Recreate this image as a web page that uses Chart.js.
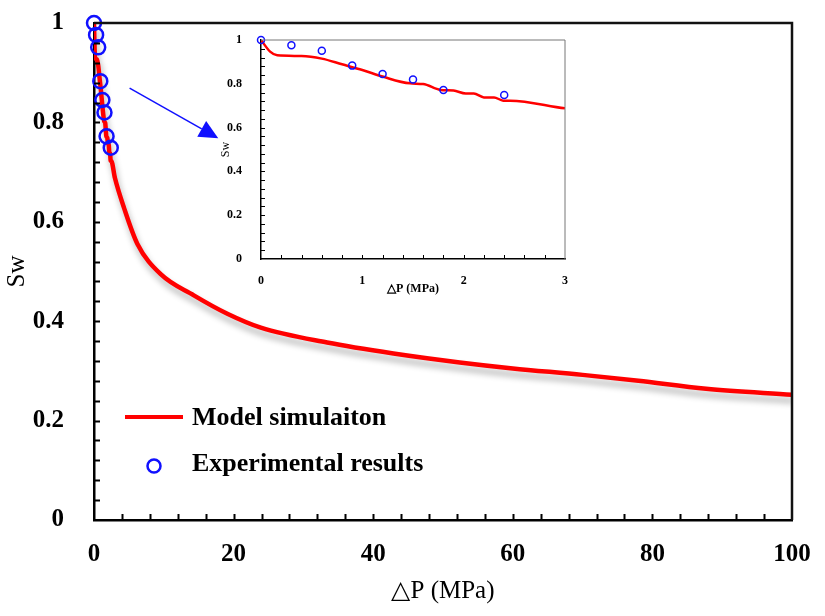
<!DOCTYPE html>
<html>
<head>
<meta charset="utf-8">
<title>Sw vs ΔP</title>
<script src="https://cdn.jsdelivr.net/npm/chart.js@4.4.0/dist/chart.umd.min.js"></script>
<style>
  html, body { margin: 0; padding: 0; background: #fff; }
  #wrap { position: relative; width: 825px; height: 616px; }
  #main { position: absolute; left: 0; top: 0; }
  #inset { position: absolute; left: 215px; top: 28px; }
</style>
</head>
<body>
<div id="wrap">
  <canvas id="main" width="825" height="616"></canvas>
  <canvas id="inset" width="362" height="274"></canvas>
</div>
<script>
// Model simulation curve (ΔP in MPa -> Sw)
const modelP  = [0, 0.09, 0.16, 0.4, 0.6, 0.8, 1.0, 1.2, 1.47, 1.6, 1.77, 1.9, 2.02, 2.1, 2.2, 2.3, 2.39, 2.46, 3.0,
                 4.3, 6.2, 9.6, 14.3, 19.1, 23.9, 33.4, 42.9, 52.4, 60, 70, 78, 87.7, 100];
const modelSw = [1.0, 0.947, 0.930, 0.927, 0.915, 0.889, 0.863, 0.833, 0.802, 0.799, 0.772, 0.769, 0.756, 0.756, 0.738, 0.738, 0.723, 0.723, 0.688,
                 0.628, 0.556, 0.494, 0.452, 0.415, 0.387, 0.357, 0.335, 0.317, 0.305, 0.292, 0.280, 0.264, 0.252];

// Experimental results
const expP  = [0, 0.3, 0.6, 0.9, 1.2, 1.5, 1.8, 2.4];
const expSw = [1.0, 0.976, 0.951, 0.883, 0.845, 0.820, 0.772, 0.749];

// Tick labels
const mainXTicks  = [0, 20, 40, 60, 80, 100];
const insetXTicks = [0, 1, 2, 3];
const swTicks     = [0, 0.2, 0.4, 0.6, 0.8, 1];

const seriesNames = ['Model simulaiton', 'Experimental results'];

const RED = '#ff0000';
const BLUE = '#1010ff';
const SERIF = '"Liberation Serif", "Times New Roman", serif';

const toXY = (xs, ys) => xs.map((v, i) => ({ x: v, y: ys[i] }));

/**
 * Inward minor ticks plus the top/right frame of the plot box
 */
const tickMarks = {
    id: 'tickMarks',
    afterDraw(chart, args, opts) {
        const { ctx, chartArea: a, scales: { x, y } } = chart;
        ctx.save();
        ctx.strokeStyle = '#000';
        ctx.lineWidth = opts.width;
        ctx.beginPath();
        for (let v = x.min + opts.xStep; v < x.max - 1e-9; v += opts.xStep) {
            const px = Math.round(x.getPixelForValue(v)) + 0.5;
            ctx.moveTo(px, a.bottom);
            ctx.lineTo(px, a.bottom - opts.len);
        }
        for (let v = y.min + opts.yStep; v < y.max - 1e-9; v += opts.yStep) {
            const py = Math.round(y.getPixelForValue(v)) + 0.5;
            ctx.moveTo(a.left, py);
            ctx.lineTo(a.left + opts.len, py);
        }
        ctx.stroke();

        // frame on top and right
        ctx.strokeStyle = opts.frameColor;
        ctx.lineWidth = opts.frameWidth;
        ctx.beginPath();
        ctx.moveTo(a.left, a.top);
        ctx.lineTo(a.right, a.top);
        ctx.lineTo(a.right, a.bottom);
        ctx.stroke();
        ctx.restore();
    }
};

/**
 * Soft grey shadow below the model curve
 */
const lineShadow = {
    id: 'lineShadow',
    beforeDatasetDraw(chart, args, opts) {
        if (!opts.enabled || !chart.data.datasets[args.index].shadow) return;
        const ctx = chart.ctx;
        ctx.save();
        ctx.shadowColor = 'rgba(0, 0, 0, 0.3)';
        ctx.shadowBlur = 6;
        ctx.shadowOffsetX = 2;
        ctx.shadowOffsetY = 6;
    },
    afterDatasetDraw(chart, args, opts) {
        if (!opts.enabled || !chart.data.datasets[args.index].shadow) return;
        chart.ctx.restore();
    }
};

/**
 * Arrow pointing from the dense data region towards the inset
 */
const arrow = {
    id: 'arrow',
    afterDraw(chart, args, opts) {
        if (!opts.from) return;
        const { ctx, scales: { x, y } } = chart;
        const x0 = x.getPixelForValue(opts.from[0]), y0 = y.getPixelForValue(opts.from[1]);
        const x1 = x.getPixelForValue(opts.to[0]), y1 = y.getPixelForValue(opts.to[1]);
        const ang = Math.atan2(y1 - y0, x1 - x0);
        const head = 19, half = 9;
        const bx = x1 - head * Math.cos(ang), by = y1 - head * Math.sin(ang);
        ctx.save();
        ctx.strokeStyle = BLUE;
        ctx.fillStyle = BLUE;
        ctx.lineWidth = 1.5;
        ctx.beginPath();
        ctx.moveTo(x0, y0);
        ctx.lineTo(bx, by);
        ctx.stroke();
        ctx.beginPath();
        ctx.moveTo(x1, y1);
        ctx.lineTo(bx + half * Math.sin(ang), by - half * Math.cos(ang));
        ctx.lineTo(bx - half * Math.sin(ang), by + half * Math.cos(ang));
        ctx.closePath();
        ctx.fill();
        ctx.restore();
    }
};

/**
 * Legend drawn inside the plot, lower left
 */
const innerLegend = {
    id: 'innerLegend',
    afterDraw(chart, args, opts) {
        if (!opts.enabled) return;
        const { ctx, chartArea: a } = chart;
        const line = chart.data.datasets.find(d => d.type === 'line');
        const pts = chart.data.datasets.find(d => d.type === 'scatter');
        ctx.save();
        ctx.font = 'bold 26px ' + SERIF;
        ctx.fillStyle = '#000';
        ctx.textBaseline = 'middle';

        const rowLine = a.bottom - 103, rowPts = a.bottom - 56;
        ctx.strokeStyle = line.borderColor;
        ctx.lineWidth = 4;
        ctx.beginPath();
        ctx.moveTo(a.left + 31, rowLine);
        ctx.lineTo(a.left + 89, rowLine);
        ctx.stroke();
        ctx.fillText(line.label, a.left + 98, rowLine + 1);

        ctx.strokeStyle = pts.borderColor;
        ctx.lineWidth = 2.5;
        ctx.beginPath();
        ctx.arc(a.left + 60, rowPts + 2, 6.5, 0, Math.PI * 2);
        ctx.stroke();
        ctx.fillText(pts.label, a.left + 98, rowPts);
        ctx.restore();
    }
};

function buildChart(canvas, cfg) {
    // pin the axis boxes so the plot area lands where the reference has it
    const fixW = (w) => (s) => { s.width = w; s.paddingTop = 0; s.paddingBottom = 0; };
    const fixH = (h) => (s) => { s.height = h; s.paddingLeft = 0; s.paddingRight = 0; };
    return new Chart(canvas, {
        data: {
            datasets: [{
                type: 'scatter',
                label: seriesNames[1],
                data: toXY(expP, expSw),
                showLine: false,
                clip: false,
                pointRadius: cfg.pointRadius,
                pointHoverRadius: cfg.pointRadius,
                pointBorderWidth: cfg.pointBorder,
                pointBorderColor: BLUE,
                pointBackgroundColor: 'rgba(0,0,0,0)',
                borderColor: BLUE
            }, {
                type: 'line',
                label: seriesNames[0],
                data: toXY(modelP, modelSw),
                borderColor: RED,
                borderWidth: cfg.lineWidth,
                pointRadius: 0,
                fill: false,
                cubicInterpolationMode: 'monotone',
                shadow: cfg.shadow
            }]
        },
        options: {
            responsive: false,
            animation: false,
            events: [],
            layout: { padding: cfg.padding },
            plugins: {
                legend: { display: false },
                tooltip: { enabled: false },
                tickMarks: cfg.marks,
                lineShadow: { enabled: cfg.shadow },
                arrow: cfg.arrow || {},
                innerLegend: { enabled: cfg.legend }
            },
            scales: {
                x: {
                    type: 'linear',
                    min: 0,
                    max: cfg.xMax,
                    afterBuildTicks: s => { s.ticks = cfg.xTicks.map(v => ({ value: v })); },
                    afterFit: fixH(cfg.xHeight),
                    grid: { display: false },
                    border: { display: true, color: '#000', width: cfg.axisWidth },
                    ticks: {
                        color: '#000',
                        padding: cfg.xTickPad,
                        maxRotation: 0,
                        font: { family: SERIF, size: cfg.tickSize, weight: 'bold' },
                        callback: v => String(v)
                    },
                    title: {
                        display: true,
                        text: '△P (MPa)',
                        color: '#000',
                        padding: { top: 0, bottom: cfg.xTitlePad },
                        font: { family: SERIF, size: cfg.titleSize, weight: cfg.xTitleWeight }
                    }
                },
                y: {
                    type: 'linear',
                    min: 0,
                    max: 1,
                    afterBuildTicks: s => { s.ticks = swTicks.map(v => ({ value: v })); },
                    afterFit: fixW(cfg.yWidth),
                    grid: { display: false },
                    border: { display: true, color: '#000', width: cfg.axisWidth },
                    ticks: {
                        color: '#000',
                        padding: cfg.yTickPad,
                        font: { family: SERIF, size: cfg.tickSize, weight: 'bold' },
                        callback: v => String(v)
                    },
                    title: {
                        display: true,
                        text: 'Sw',
                        color: '#000',
                        padding: { top: cfg.yTitlePad, bottom: 0 },
                        font: { family: SERIF, size: cfg.titleSize, weight: 'normal' }
                    }
                }
            }
        },
        plugins: [tickMarks, lineShadow, arrow, innerLegend]
    });
}

// main chart: plot box 94..792 x 23..520
buildChart(document.getElementById('main'), {
    xMax: 100, xTicks: mainXTicks,
    padding: { left: 0, top: 23, right: 33, bottom: 0 },
    yWidth: 94, xHeight: 96,
    tickSize: 25, titleSize: 25, xTitleWeight: 'normal',
    xTickPad: 12, yTickPad: 22, xTitlePad: 10, yTitlePad: 2,
    axisWidth: 2.5, lineWidth: 4.5, pointRadius: 7, pointBorder: 2.5,
    shadow: true, legend: true,
    marks: { width: 2, len: 6, xStep: 4, yStep: 0.04, frameColor: '#111', frameWidth: 2.5 },
    arrow: { from: [5.1, 0.869], to: [17.8, 0.768] }
});

// inset: plot box 46..350 x 12..231 inside its canvas
buildChart(document.getElementById('inset'), {
    xMax: 3, xTicks: insetXTicks,
    padding: { left: 0, top: 12, right: 12, bottom: 0 },
    yWidth: 46, xHeight: 43,
    tickSize: 12, titleSize: 12, xTitleWeight: 'bold',
    xTickPad: 7, yTickPad: 11, xTitlePad: 6, yTitlePad: 4,
    axisWidth: 1.5, lineWidth: 2.5, pointRadius: 3.5, pointBorder: 1.5,
    shadow: false, legend: false,
    marks: { width: 1, len: 4, xStep: 0.2, yStep: 0.04, frameColor: '#777', frameWidth: 1 }
});
</script>
</body>
</html>
